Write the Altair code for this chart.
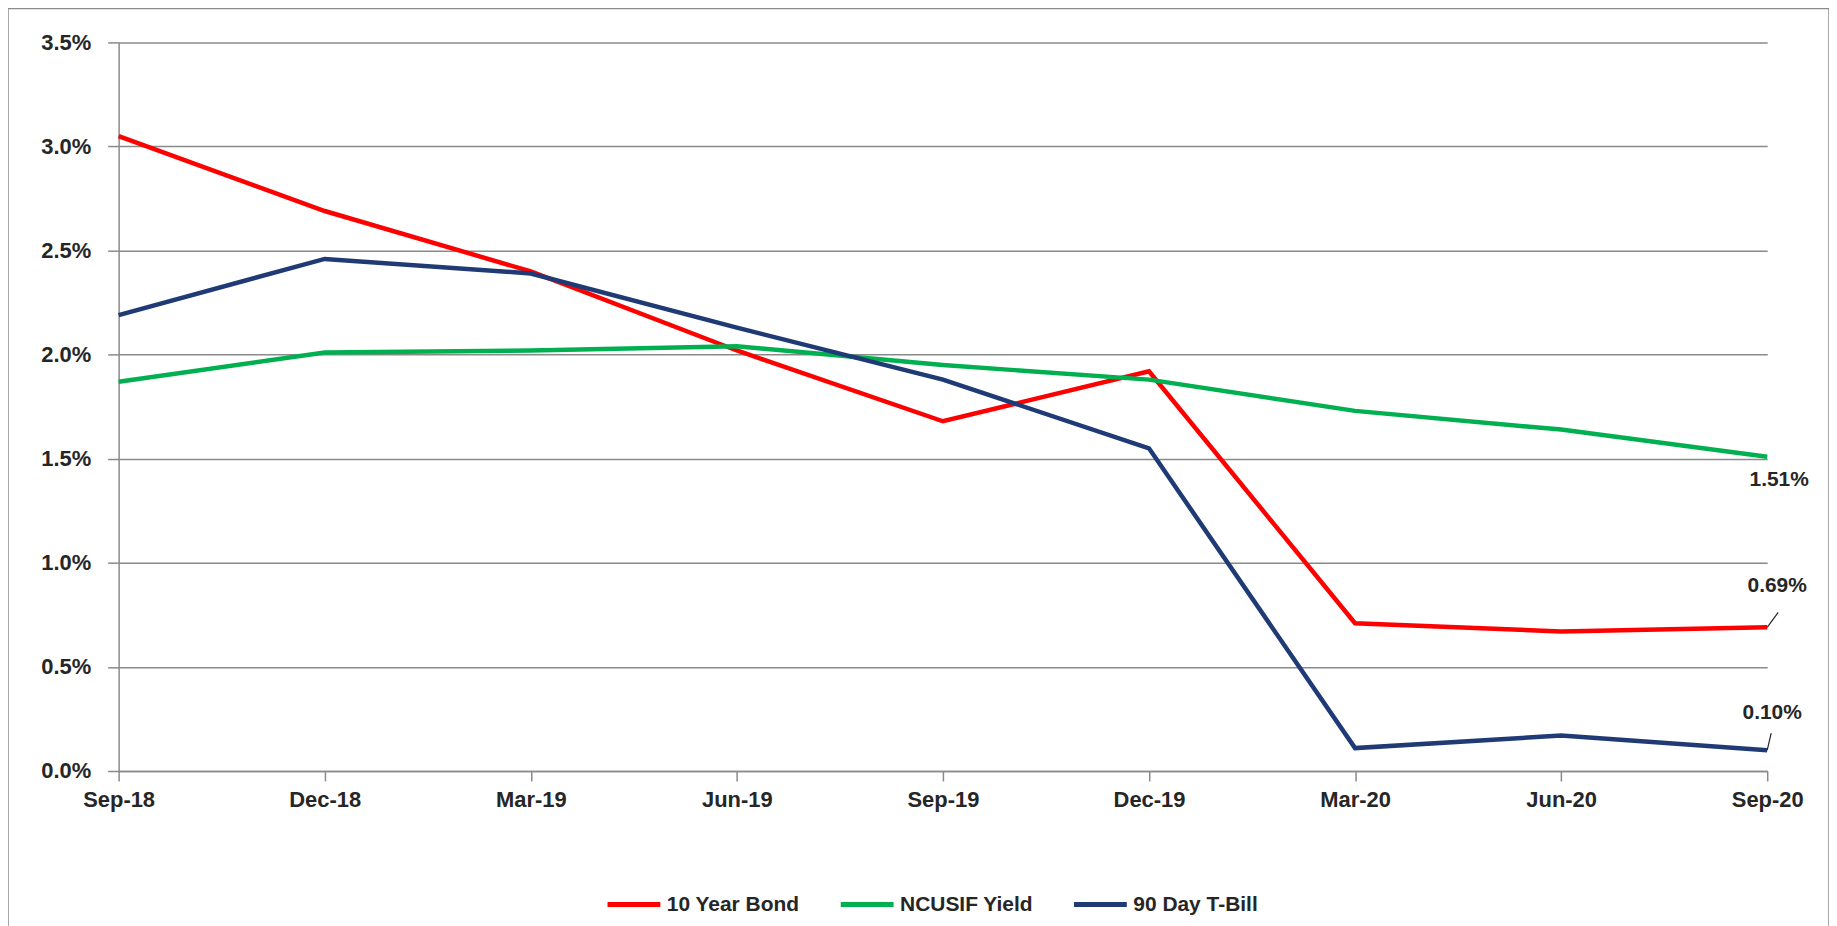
import altair as alt
import pandas as pd

quarters = ["Sep-18", "Dec-18", "Mar-19", "Jun-19", "Sep-19", "Dec-19", "Mar-20", "Jun-20", "Sep-20"]
bond_10yr = [3.05, 2.69, 2.40, 2.02, 1.68, 1.92, 0.71, 0.67, 0.69]
ncusif_yield = [1.87, 2.01, 2.02, 2.04, 1.95, 1.88, 1.73, 1.64, 1.51]
tbill_90day = [2.19, 2.46, 2.39, 2.13, 1.88, 1.55, 0.11, 0.17, 0.10]
series_names = ["10 Year Bond", "NCUSIF Yield", "90 Day T-Bill"]
series_colors = ["#FF0000", "#00B050", "#1F3A75"]
y_ticks = [0.0, 0.005, 0.01, 0.015, 0.02, 0.025, 0.03, 0.035]

rows = []
for name, vals in zip(series_names, [bond_10yr, ncusif_yield, tbill_90day]):
    for i, (q, v) in enumerate(zip(quarters, vals)):
        rows.append({"quarter": q, "idx": i, "series": name, "rate": v / 100.0})
df = pd.DataFrame(rows)

W, H = 1654, 731
FONT = "Liberation Sans, Arial, sans-serif"
TXT = "#262626"
GRID = "#8a8a8a"

x_enc = alt.X(
    "quarter:N", sort=quarters,
    scale=alt.Scale(type="point", padding=0),
    axis=alt.Axis(title=None, labelAngle=0, labelFont=FONT, labelFontSize=22,
                  labelFontWeight="bold", labelColor=TXT, labelPadding=9,
                  tickSize=10, tickColor=GRID, tickWidth=1.5,
                  domainColor=GRID, domainWidth=1.5, grid=False),
)
y_enc = alt.Y(
    "rate:Q",
    scale=alt.Scale(domain=[0, 0.035], nice=False, zero=True),
    axis=alt.Axis(title=None, format=".1%", values=y_ticks, labelFont=FONT,
                  labelFontSize=22, labelFontWeight="bold", labelColor=TXT,
                  labelPadding=17, tickSize=11, tickColor=GRID, tickWidth=1.5,
                  domainColor=GRID, domainWidth=1.5,
                  grid=True, gridColor=GRID, gridWidth=1.5),
)

color_enc = alt.Color(
    "series:N",
    scale=alt.Scale(domain=series_names, range=series_colors),
    sort=series_names,
    legend=alt.Legend(orient="none", legendX=488, legendY=836, direction="horizontal",
                      title=None, symbolType="stroke", symbolSize=2809,
                      symbolStrokeWidth=5, labelFont=FONT, labelFontSize=21,
                      labelFontWeight="bold", labelColor=TXT, labelOffset=4,
                      columnPadding=30, labelLimit=300),
)

base = alt.Chart(df)
lines = base.mark_line(strokeWidth=4.5).encode(x=x_enc, y=y_enc, color=color_enc,
                                                 order=alt.Order("idx:Q"))


def end_label(name, dx, dy):
    return base.transform_filter(
        (alt.datum.series == name) & (alt.datum.quarter == quarters[-1])
    ).mark_text(font=FONT, fontSize=21, fontWeight="bold", color=TXT, dx=dx, dy=dy).encode(
        x=alt.X("quarter:N", sort=quarters),
        y="rate:Q",
        text=alt.Text("rate:Q", format=".2%"),
    )


def leader(name, ox, oy):
    return base.transform_filter(
        (alt.datum.series == name) & (alt.datum.quarter == quarters[-1])
    ).mark_rule(color=TXT, strokeWidth=1.2, x2Offset=ox, y2Offset=oy).encode(
        x=alt.X("quarter:N", sort=quarters), x2="quarter:N",
        y="rate:Q", y2="rate:Q",
    )


lab_ncusif = end_label("NCUSIF Yield", 12, 23)
lab_bond = end_label("10 Year Bond", 10, -41)
lab_tbill = end_label("90 Day T-Bill", 5, -37)
lead_bond = leader("10 Year Bond", 11, -15)
lead_tbill = leader("90 Day T-Bill", 4, -17)

frame = alt.Chart(pd.DataFrame({"f": [0]})).mark_rect(
    fill="transparent", stroke="#8c8c8c", strokeWidth=1.5
).encode(x=alt.value(-111), x2=alt.value(1716), y=alt.value(-34), y2=alt.value(H + 200))

chart = alt.layer(frame, lines, lead_bond, lead_tbill, lab_ncusif, lab_bond, lab_tbill).properties(
    width=W, height=H,
    autosize=alt.AutoSizeParams(type="none"),
    padding={"left": 111, "top": 33, "right": 62, "bottom": 154},
    background="white",
).configure_view(stroke=None)

chart.save("out.html", embed_options={"renderer": "svg", "actions": False})
